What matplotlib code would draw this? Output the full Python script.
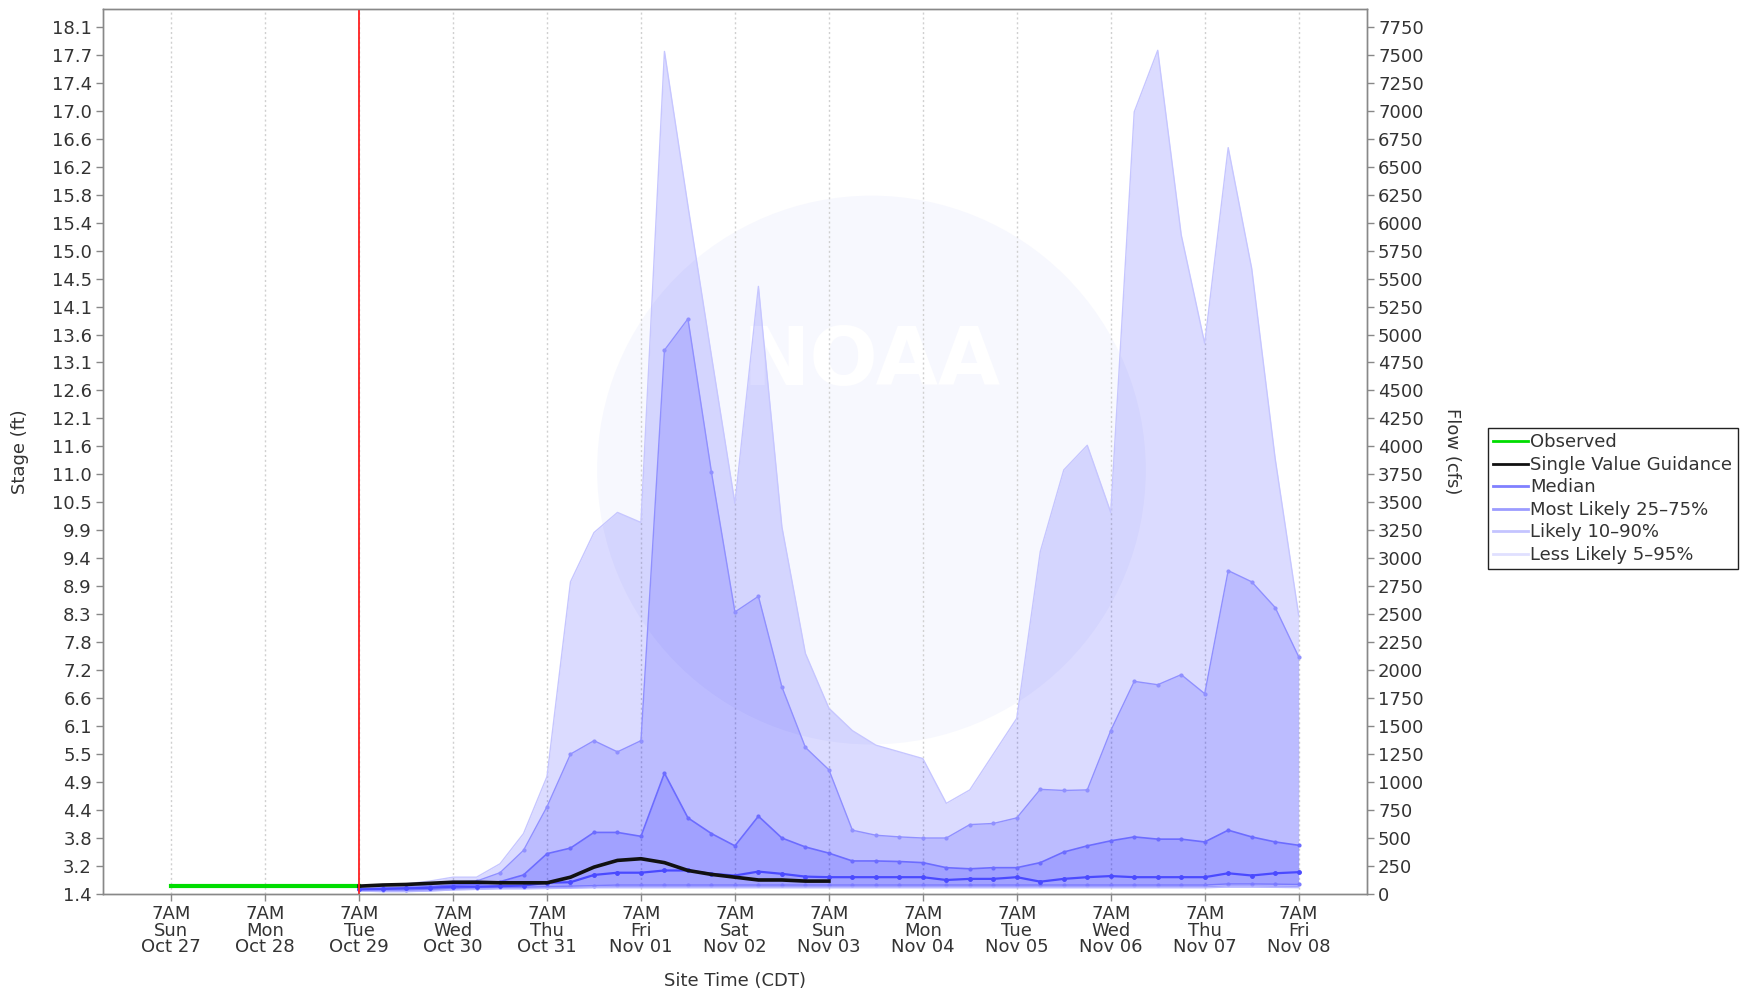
import matplotlib
matplotlib.use("Agg")
import matplotlib.pyplot as plt
from matplotlib.lines import Line2D
from matplotlib.patches import Ellipse

# x positions in days after 7AM Sun Oct 27 (6-hourly steps)
obs_days = [0.0, 0.25, 0.5, 0.75, 1.0, 1.25, 1.5, 1.75, 2.0]
observed = [70, 70, 70, 70, 70, 70, 70, 70, 70]

svg_days = [2.0, 2.25, 2.5, 2.75, 3.0, 3.25, 3.5, 3.75, 4.0, 4.25, 4.5,
            4.75, 5.0, 5.25, 5.5, 5.75, 6.0, 6.25, 6.5, 6.75, 7.0]
svg_flow = [70, 80, 85, 95, 105, 105, 100, 100, 100, 150, 240,
            300, 315, 280, 210, 175, 150, 125, 125, 115, 115]

ens_days = [2.0, 2.25, 2.5, 2.75, 3.0, 3.25, 3.5, 3.75, 4.0, 4.25, 4.5,
            4.75, 5.0, 5.25, 5.5, 5.75, 6.0, 6.25, 6.5, 6.75, 7.0,
            7.25, 7.5, 7.75, 8.0, 8.25, 8.5, 8.75, 9.0, 9.25, 9.5,
            9.75, 10.0, 10.25, 10.5, 10.75, 11.0, 11.25, 11.5, 11.75, 12.0]
p95 = [60, 70, 90, 115, 150, 150, 270, 540, 1050, 2790, 3230,
       3410, 3320, 7530, 6150, 4810, 3490, 5430, 3280, 2150, 1660,
       1460, 1330, 1270, 1210, 810, 930, 1250, 1570, 3060, 3790,
       4010, 3410, 6990, 7540, 5890, 4920, 6670, 5590, 3890, 2490]
p90 = [50, 55, 65, 80, 110, 115, 190, 390, 780, 1250, 1370,
       1270, 1370, 4860, 5140, 3770, 2520, 2660, 1850, 1310, 1110,
       570, 525, 510, 500, 500, 620, 630, 680, 935, 925,
       930, 1460, 1900, 1870, 1960, 1790, 2890, 2790, 2560, 2120]
p75 = [45, 50, 55, 65, 80, 85, 110, 170, 360, 410, 550,
       550, 515, 1080, 680, 540, 430, 695, 500, 420, 365,
       295, 295, 290, 280, 235, 225, 235, 235, 280, 375,
       430, 475, 510, 490, 490, 465, 570, 510, 465, 435]
median = [40, 45, 50, 55, 65, 65, 70, 75, 100, 105, 170,
          190, 190, 210, 210, 180, 165, 200, 180, 155, 150,
          150, 150, 150, 150, 125, 135, 135, 150, 110, 135,
          150, 160, 150, 150, 150, 150, 185, 165, 185, 195]
p25 = [40, 35, 35, 40, 50, 55, 60, 60, 65, 70, 75,
       80, 80, 80, 80, 80, 80, 80, 80, 80, 80,
       80, 80, 80, 80, 80, 80, 80, 80, 80, 80,
       80, 80, 80, 80, 80, 80, 90, 90, 88, 85]
p10 = [30, 25, 25, 30, 40, 45, 50, 50, 55, 58, 62,
       65, 65, 65, 65, 65, 65, 65, 65, 65, 65,
       65, 65, 65, 65, 65, 65, 65, 65, 65, 65,
       65, 65, 65, 65, 65, 65, 72, 72, 70, 68]
p5 = [25, 20, 20, 25, 35, 40, 45, 45, 48, 50, 55,
      55, 55, 55, 55, 55, 55, 55, 55, 55, 55,
      55, 55, 55, 55, 55, 55, 55, 55, 55, 55,
      55, 55, 55, 55, 55, 55, 60, 60, 58, 56]

forecast_start = 2.0

tick_days = list(range(13))
tick_labels = ["7AM\nSun\nOct 27", "7AM\nMon\nOct 28", "7AM\nTue\nOct 29",
               "7AM\nWed\nOct 30", "7AM\nThu\nOct 31", "7AM\nFri\nNov 01",
               "7AM\nSat\nNov 02", "7AM\nSun\nNov 03", "7AM\nMon\nNov 04",
               "7AM\nTue\nNov 05", "7AM\nWed\nNov 06", "7AM\nThu\nNov 07",
               "7AM\nFri\nNov 08"]
flow_ticks = list(range(0, 7751, 250))
stage_labels = ["1.4", "3.2", "3.8", "4.4", "4.9", "5.5", "6.1", "6.6",
                "7.2", "7.8", "8.3", "8.9", "9.4", "9.9", "10.5", "11.0",
                "11.6", "12.1", "12.6", "13.1", "13.6", "14.1", "14.5",
                "15.0", "15.4", "15.8", "16.2", "16.6", "17.0", "17.4",
                "17.7", "18.1"]

plt.rcParams["font.family"] = ["DejaVu Sans"]
txt = "#333333"
fs = 13

fig = plt.figure(figsize=(17.54, 9.90), dpi=100)
ax = fig.add_axes([0.0587, 0.0970, 0.7206, 0.8940])

# faint watermark behind the data
ax.add_patch(Ellipse((0.608, 0.479), 0.434, 0.62, transform=ax.transAxes,
                     facecolor="#f7f8fe", edgecolor="none", zorder=0))
ax.text(0.608, 0.60, "NOAA", transform=ax.transAxes, fontsize=58,
        fontweight="bold", color="white", ha="center", va="center", zorder=0.5)

for d in tick_days:
    ax.axvline(d, color="#d0d0d0", lw=1, ls=(0, (1.5, 2)), zorder=1)

band = "#0000ff"
ax.fill_between(ens_days, p5, p95, color=band, alpha=0.14, lw=0, zorder=2)
ax.fill_between(ens_days, p10, p90, color=band, alpha=0.14, lw=0, zorder=2)
ax.fill_between(ens_days, p25, p75, color=band, alpha=0.14, lw=0, zorder=2)

ax.plot(ens_days, p95, color="#c6c6ff", lw=1, zorder=3)
ax.plot(ens_days, p90, color="#9090ff", lw=1, marker="o", ms=2, zorder=3)
ax.plot(ens_days, p75, color="#6c6cff", lw=1.2, marker="o", ms=2, zorder=3)
ax.plot(ens_days, p25, color="#7a7aff", lw=1, marker="o", ms=2, zorder=3)
ax.plot(ens_days, p10, color="#9c9cff", lw=0.8, zorder=3)
ax.plot(ens_days, p5, color="#b8b8ff", lw=0.8, zorder=3)
ax.plot(ens_days, median, color="#4a4aff", lw=1.6, marker="o", ms=2.5, zorder=4)

ax.plot(obs_days, observed, color="#00dd00", lw=3, zorder=5)
ax.plot(svg_days, svg_flow, color="#111111", lw=2.6, zorder=5)
ax.axvline(forecast_start, color="#ff2020", lw=1.3, zorder=6)

ax.set_xlim(-0.726, 12.726)
ax.set_ylim(0, 7910)
ax.set_xticks(tick_days)
ax.set_xticklabels(tick_labels, fontsize=fs, color=txt, linespacing=0.9)
ax.set_yticks(flow_ticks)
ax.set_yticklabels(stage_labels, fontsize=fs, color=txt)
ax.tick_params(axis="both", length=5, width=1, color="#888888", pad=3)

ax2 = ax.twinx()
ax2.set_ylim(0, 7910)
ax2.set_yticks(flow_ticks)
ax2.set_yticklabels([str(v) for v in flow_ticks], fontsize=fs, color=txt)
ax2.tick_params(axis="y", length=5, width=1, color="#888888", pad=3)

for a in (ax, ax2):
    for s in a.spines.values():
        s.set_color("#888888")
        s.set_linewidth(1)

ax.set_ylabel("Stage (ft)", fontsize=fs, color=txt, va="center")
ax.yaxis.set_label_coords(-0.0657, 0.5)
ax2.set_ylabel("Flow (cfs)", fontsize=fs, color=txt, rotation=270, va="center")
ax2.yaxis.set_label_coords(1.0672, 0.5)
ax.set_xlabel("Site Time (CDT)", fontsize=fs, color=txt, va="center")
ax.xaxis.set_label_coords(0.5, -0.098)

handles = [
    Line2D([], [], color="#00dd00", lw=2),
    Line2D([], [], color="#111111", lw=2),
    Line2D([], [], color="#8080ff", lw=2),
    Line2D([], [], color="#9c9cff", lw=2),
    Line2D([], [], color="#c4c4ff", lw=2),
    Line2D([], [], color="#e0e0ff", lw=2),
]
names = ["Observed", "Single Value Guidance", "Median",
         "Most Likely 25\u201375%", "Likely 10\u201390%", "Less Likely 5\u201395%"]
leg = fig.legend(handles, names, loc="upper left",
                 bbox_to_anchor=(1488 / 1754, 1 - 428 / 990),
                 fontsize=fs, frameon=True, fancybox=False, framealpha=1,
                 edgecolor="#222222", handlelength=1.9, handletextpad=0.15,
                 borderpad=0.3, labelspacing=0.25, borderaxespad=0)
leg.get_frame().set_linewidth(1)
for t in leg.get_texts():
    t.set_color(txt)

fig.savefig("out.png", dpi=100)
